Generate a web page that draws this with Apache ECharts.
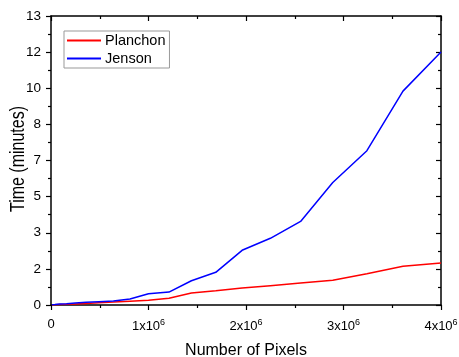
<!DOCTYPE html>
<html>
<head>
<meta charset="utf-8">
<script src="https://cdn.jsdelivr.net/npm/echarts@6/dist/echarts.min.js"></script>
<style>
	html, body { margin: 0; padding: 0; background: #fff; }
	#chart { width: 459px; height: 357px; }
</style>
</head>
<body>
<div id="chart"></div>
<script>
// image sizes 100x100 ... 2000x2000, as number of pixels
var pixelCounts = [0.01e6, 0.04e6, 0.09e6, 0.16e6, 0.25e6, 0.36e6, 0.49e6, 0.64e6, 0.81e6, 1.0e6,
	1.21e6, 1.44e6, 1.69e6, 1.96e6, 2.25e6, 2.56e6, 2.89e6, 3.24e6, 3.61e6, 4.0e6];
var planchon = [0, 0.01, 0.02, 0.03, 0.05, 0.07, 0.1, 0.13, 0.17, 0.21,
	0.3, 0.54, 0.64, 0.76, 0.87, 0.99, 1.11, 1.41, 1.74, 1.89];
var jenson = [0.01, 0.02, 0.04, 0.06, 0.09, 0.12, 0.15, 0.18, 0.27, 0.51,
	0.58, 1.09, 1.47, 2.46, 3.0, 3.76, 5.51, 6.94, 9.62, 11.38];
var yTickLabels = ['0', '2', '3', '5', '7', '8', '10', '12', '13'];
var xTickLabels = ['0', '1x10{sup|6}', '2x10{sup|6}', '3x10{sup|6}', '4x10{sup|6}'];

var font = '"Liberation Sans", Arial, sans-serif';
var yStep = 13 / 8;

function pairs(xs, ys) {
	var out = [];
	for (var i = 0; i < xs.length; i++) out.push([xs[i], ys[i]]);
	return out;
}

var lineAxis = { show: true, onZero: false, lineStyle: { color: '#000', width: 1.5 } };
var tickStyle = { color: '#000', width: 1.2 };

var chart = echarts.init(document.getElementById('chart'));
chart.setOption({
	animation: false,
	backgroundColor: '#fff',
	grid: { left: 51, right: 18, top: 16, bottom: 52, outerBoundsMode: 'none', containLabel: false },
	// y title drawn by hand: it is stretched lengthwise in the original
	graphic: [{
		type: 'text', x: 18, y: 159, rotation: Math.PI / 2, scaleY: 1.28,
		style: {
			text: 'Time (minutes)', fill: '#000',
			font: '16px "Liberation Sans", Arial, sans-serif',
			align: 'center', verticalAlign: 'middle'
		}
	}],
	legend: {
		left: 64, top: 31,
		orient: 'vertical',
		padding: [2, 4, 2, 3],
		itemGap: 3,
		itemWidth: 34, itemHeight: 2,
		icon: 'rect',
		borderColor: '#999', borderWidth: 1,
		textStyle: { fontFamily: font, fontSize: 14.5, color: '#000', padding: [0, 0, 0, -1] },
		data: ['Planchon', 'Jenson']
	},
	xAxis: [{
		type: 'value', min: 0, max: 4e6, interval: 1e6,
		name: 'Number of Pixels', nameLocation: 'middle', nameGap: 38,
		nameTextStyle: { fontFamily: font, fontSize: 16, color: '#000' },
		axisLine: lineAxis,
		axisTick: { show: true, length: 5, lineStyle: tickStyle },
		minorTick: { show: true, splitNumber: 2, length: 3, lineStyle: tickStyle },
		splitLine: { show: false },
		axisLabel: {
			margin: 13,
			fontFamily: font, fontSize: 13, color: '#000',
			formatter: function (v) { return xTickLabels[Math.round(v / 1e6)]; },
			rich: { sup: { fontFamily: font, fontSize: 9, color: '#000', verticalAlign: 'top', padding: [0, 0, 8, 0] } }
		}
	}, {
		type: 'value', min: 0, max: 4e6, interval: 1e6, position: 'top',
		axisLine: lineAxis,
		axisTick: { show: true, inside: true, length: 5, lineStyle: tickStyle },
		minorTick: { show: true, splitNumber: 2, length: 3, lineStyle: tickStyle },
		splitLine: { show: false },
		axisLabel: { show: false }
	}],
	yAxis: [{
		type: 'value', min: 0, max: 13, interval: yStep,
		axisLine: lineAxis,
		axisTick: { show: true, length: 5, lineStyle: tickStyle },
		minorTick: { show: true, splitNumber: 2, length: 3, lineStyle: tickStyle },
		splitLine: { show: false },
		axisLabel: {
			margin: 10,
			fontFamily: font, fontSize: 13.5, color: '#000',
			formatter: function (v) { return yTickLabels[Math.round(v / yStep)]; }
		}
	}, {
		type: 'value', min: 0, max: 13, interval: yStep, position: 'right',
		axisLine: lineAxis,
		axisTick: { show: true, inside: true, length: 5, lineStyle: tickStyle },
		minorTick: { show: true, splitNumber: 2, length: 3, lineStyle: tickStyle },
		splitLine: { show: false },
		axisLabel: { show: false }
	}],
	series: [{
		name: 'Planchon', type: 'line', symbol: 'none',
		color: '#ff0000',
		lineStyle: { color: '#ff0000', width: 1.5 },
		data: pairs(pixelCounts, planchon)
	}, {
		name: 'Jenson', type: 'line', symbol: 'none',
		color: '#0000ff',
		lineStyle: { color: '#0000ff', width: 1.5 },
		data: pairs(pixelCounts, jenson)
	}]
});
</script>
</body>
</html>
